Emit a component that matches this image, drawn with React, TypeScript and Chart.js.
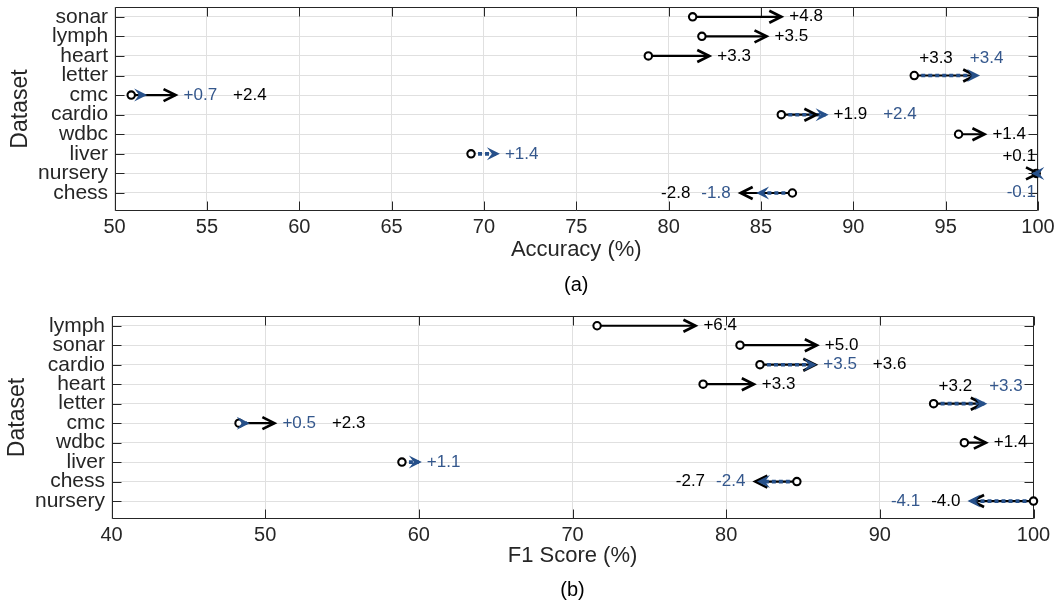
import { useEffect, useRef } from 'react';
import { Chart, registerables } from 'chart.js';

Chart.register(...registerables);

const FONT = '"Liberation Sans", Arial, Helvetica, sans-serif';
const INK = '#262626';
const GRID = '#e0e0e0';
const BLUE = '#26508a';
const BLUE_TEXT = '#34578c';

// ---------- (a) Accuracy ----------
const accDatasets = ['sonar', 'lymph', 'heart', 'letter', 'cmc', 'cardio', 'wdbc', 'liver', 'nursery', 'chess'];
const accBaseline = [81.3, 81.8, 78.9, 93.3, 50.9, 86.1, 95.7, 69.3, 99.9, 86.7];
const accGainBlack = [4.8, 3.5, 3.3, 3.3, 2.4, 1.9, 1.4, null, 0.1, -2.8];
const accGainBlue = [null, null, null, 3.4, 0.7, 2.4, null, 1.4, -0.1, -1.8];
const accTicks = [50, 55, 60, 65, 70, 75, 80, 85, 90, 95, 100];

// ---------- (b) F1 score ----------
const f1Datasets = ['lymph', 'sonar', 'cardio', 'heart', 'letter', 'cmc', 'wdbc', 'liver', 'chess', 'nursery'];
const f1Baseline = [71.6, 80.9, 82.2, 78.5, 93.5, 48.3, 95.5, 58.9, 84.6, 100.0];
const f1GainBlack = [6.4, 5.0, 3.6, 3.3, 3.2, 2.3, 1.4, null, -2.7, -4.0];
const f1GainBlue = [null, null, 3.5, null, 3.3, 0.5, null, 1.1, -2.4, -4.1];
const f1Ticks = [40, 50, 60, 70, 80, 90, 100];

type Gain = number | null;
type Mode = 'above' | 'split';
interface PanelSpec {
  names: string[];
  base: number[];
  black: Gain[];
  blue: Gain[];
  xTicks: number[];
  xTitle: string;
  caption: string;
  labelMode: Record<string, Mode>;
  box: { left: number; right: number; top: number; bottom: number };
  titleY: number;
  captionY: number;
}

const W = 1057;
const H = 303;

const panelA: PanelSpec = {
  names: accDatasets,
  base: accBaseline,
  black: accGainBlack,
  blue: accGainBlue,
  xTicks: accTicks,
  xTitle: 'Accuracy (%)',
  caption: '(a)',
  labelMode: { letter: 'above', nursery: 'split' },
  box: { left: 114.6, right: 1038, top: 7, bottom: 211 },
  titleY: 250,
  captionY: 285,
};

const panelB: PanelSpec = {
  names: f1Datasets,
  base: f1Baseline,
  black: f1GainBlack,
  blue: f1GainBlue,
  xTicks: f1Ticks,
  xTitle: 'F1 Score (%)',
  caption: '(b)',
  labelMode: { letter: 'above' },
  box: { left: 111.5, right: 1033.5, top: 13, bottom: 216 },
  titleY: 253,
  captionY: 287,
};

const fmt = (v: number) => (v > 0 ? '+' : '') + v.toFixed(1);

function chevron(ctx: CanvasRenderingContext2D, tx: number, ty: number, dir: number) {
  ctx.beginPath();
  ctx.moveTo(tx - dir * 12, ty - 6);
  ctx.lineTo(tx, ty);
  ctx.lineTo(tx - dir * 12, ty + 6);
  ctx.strokeStyle = '#000';
  ctx.lineWidth = 2.7;
  ctx.lineJoin = 'miter';
  ctx.lineCap = 'butt';
  ctx.setLineDash([]);
  ctx.stroke();
}

function notched(ctx: CanvasRenderingContext2D, tx: number, ty: number, dir: number) {
  const t = tx + dir * 3;
  ctx.beginPath();
  ctx.moveTo(t, ty);
  ctx.lineTo(t - dir * 13, ty - 6.5);
  ctx.lineTo(t - dir * 8, ty);
  ctx.lineTo(t - dir * 13, ty + 6.5);
  ctx.closePath();
  ctx.fillStyle = BLUE;
  ctx.fill();
}

function buildConfig(p: PanelSpec): any {
  const rowY = (i: number) => i + 1;
  const circles = p.names.map((_, i) => ({ x: p.base[i], y: rowY(i) }));
  const seg = (gains: Gain[]) => {
    const pts: any[] = [];
    gains.forEach((g, i) => {
      if (g == null) return;
      pts.push({ x: p.base[i], y: rowY(i) }, { x: p.base[i] + g, y: rowY(i) }, { x: null, y: null });
    });
    return pts;
  };

  const framePlugin = {
    id: 'frame',
    beforeDatasetsDraw(chart: any) {
      const { ctx, chartArea, scales } = chart;
      const { left, right, top, bottom } = chartArea;
      const x = scales.x;
      const y = scales.y;
      ctx.save();
      ctx.strokeStyle = INK;
      ctx.lineWidth = 1;
      ctx.setLineDash([]);
      const L = Math.round(left) + 0.5;
      const R = Math.round(right) - 0.5;
      const T = Math.round(top) + 0.5;
      const B = Math.round(bottom) - 0.5;
      ctx.beginPath();
      ctx.rect(L, T, R - L, B - T);
      x.ticks.forEach((t: any) => {
        const px = Math.round(x.getPixelForValue(t.value)) + 0.5;
        ctx.moveTo(px, B);
        ctx.lineTo(px, B - 9);
        ctx.moveTo(px, T);
        ctx.lineTo(px, T + 9);
      });
      y.ticks.forEach((t: any) => {
        const py = Math.round(y.getPixelForValue(t.value)) + 0.5;
        ctx.moveTo(L, py);
        ctx.lineTo(L + 9, py);
        ctx.moveTo(R, py);
        ctx.lineTo(R - 9, py);
      });
      ctx.stroke();
      ctx.restore();
    },
  };

  const arrowPlugin = {
    id: 'arrowsAndLabels',
    afterDatasetsDraw(chart: any) {
      const { ctx, scales } = chart;
      const x = scales.x;
      const y = scales.y;
      ctx.save();
      p.names.forEach((name, i) => {
        const py = y.getPixelForValue(rowY(i));
        const b = p.base[i];
        const k = p.black[i];
        const u = p.blue[i];
        if (k != null) chevron(ctx, x.getPixelForValue(b + k), py, k >= 0 ? 1 : -1);
        if (u != null) notched(ctx, x.getPixelForValue(b + u), py, u >= 0 ? 1 : -1);
      });

      ctx.font = `17px ${FONT}`;
      ctx.textBaseline = 'middle';
      p.names.forEach((name, i) => {
        const py = y.getPixelForValue(rowY(i));
        const b = p.base[i];
        const items: { v: number; color: string }[] = [];
        if (p.black[i] != null) items.push({ v: p.black[i] as number, color: '#000' });
        if (p.blue[i] != null) items.push({ v: p.blue[i] as number, color: BLUE_TEXT });
        if (!items.length) return;
        items.sort((a, c) => a.v - c.v);
        const tips = items.map((it) => x.getPixelForValue(b + it.v));
        const mode = p.labelMode[name];
        if (mode === 'above') {
          let cx = x.getPixelForValue(b) + 5;
          ctx.textAlign = 'left';
          items.forEach((it) => {
            const s = fmt(it.v);
            ctx.fillStyle = it.color;
            ctx.fillText(s, cx, py - 17);
            cx += ctx.measureText(s).width + 17;
          });
        } else if (mode === 'split') {
          const rx = Math.max(...tips) - 2;
          ctx.textAlign = 'right';
          items.forEach((it) => {
            ctx.fillStyle = it.color;
            ctx.fillText(fmt(it.v), rx, it.v >= 0 ? py - 17 : py + 19);
          });
        } else if (items[0].v >= 0) {
          let cx = Math.max(...tips) + 8;
          ctx.textAlign = 'left';
          items.forEach((it) => {
            const s = fmt(it.v);
            ctx.fillStyle = it.color;
            ctx.fillText(s, cx, py);
            cx += ctx.measureText(s).width + 16;
          });
        } else {
          let cx = Math.min(...tips) - 10;
          ctx.textAlign = 'right';
          [...items].reverse().forEach((it) => {
            const s = fmt(it.v);
            ctx.fillStyle = it.color;
            ctx.fillText(s, cx, py);
            cx -= ctx.measureText(s).width + 11;
          });
        }
      });
      ctx.restore();
    },
    afterDraw(chart: any) {
      const { ctx, chartArea } = chart;
      const { left, right, top, bottom } = chartArea;
      const cx = (left + right) / 2;
      ctx.save();
      ctx.fillStyle = INK;
      ctx.textAlign = 'center';
      ctx.textBaseline = 'middle';
      ctx.font = `22px ${FONT}`;
      ctx.fillText(p.xTitle, cx, p.titleY);
      ctx.fillStyle = '#000';
      ctx.font = `20px ${FONT}`;
      ctx.fillText(p.caption, cx, p.captionY);
      ctx.translate(left - 87.5, (top + bottom) / 2);
      ctx.rotate(-Math.PI / 2);
      ctx.fillStyle = INK;
      ctx.textBaseline = 'alphabetic';
      ctx.font = `23px ${FONT}`;
      ctx.fillText('Dataset', 0, 0);
      ctx.restore();
    },
  };

  const zeroPad = (s: any) => {
    s.paddingLeft = 0;
    s.paddingRight = 0;
    s.paddingTop = 0;
    s.paddingBottom = 0;
  };

  return {
    type: 'scatter',
    data: {
      datasets: [
        {
          label: 'baseline',
          data: circles,
          showLine: false,
          pointStyle: 'circle',
          pointRadius: 3.7,
          borderWidth: 2.1,
          borderColor: '#000',
          backgroundColor: '#fff',
          clip: false,
          order: 0,
        },
        {
          label: 'blue',
          data: seg(p.blue),
          showLine: true,
          pointRadius: 0,
          borderColor: BLUE,
          borderWidth: 3.6,
          borderDash: [4, 3],
          borderCapStyle: 'butt',
          clip: false,
          order: 1,
        },
        {
          label: 'black',
          data: seg(p.black),
          showLine: true,
          pointRadius: 0,
          borderColor: '#000',
          borderWidth: 2.2,
          clip: false,
          order: 2,
        },
      ],
    },
    options: {
      animation: false,
      responsive: false,
      maintainAspectRatio: false,
      devicePixelRatio: 1,
      events: [],
      layout: { padding: { left: 0, right: W - p.box.right, top: p.box.top, bottom: 0 } },
      plugins: { legend: { display: false }, tooltip: { enabled: false }, title: { display: false } },
      scales: {
        x: {
          type: 'linear',
          min: p.xTicks[0],
          max: p.xTicks[p.xTicks.length - 1],
          afterBuildTicks: (s: any) => {
            s.ticks = p.xTicks.map((v) => ({ value: v }));
          },
          ticks: {
            autoSkip: false,
            maxRotation: 0,
            padding: 4,
            color: INK,
            font: { family: FONT, size: 20 },
            callback: (v: any) => String(v),
          },
          grid: { color: GRID, lineWidth: 1, drawTicks: false },
          border: { display: false },
          afterFit: (s: any) => {
            s.height = H - p.box.bottom;
            zeroPad(s);
          },
        },
        y: {
          type: 'linear',
          min: 0.5,
          max: 10.92,
          reverse: true,
          afterBuildTicks: (s: any) => {
            s.ticks = p.names.map((_, i) => ({ value: rowY(i) }));
          },
          ticks: {
            autoSkip: false,
            padding: 6.5,
            color: INK,
            font: { family: FONT, size: 21 },
            callback: (v: any) => p.names[Math.round(v) - 1] ?? '',
          },
          grid: { color: GRID, lineWidth: 1, drawTicks: false },
          border: { display: false },
          afterFit: (s: any) => {
            s.width = p.box.left;
            zeroPad(s);
          },
        },
      },
    },
    plugins: [framePlugin, arrowPlugin],
  };
}

function PanelChart({ panel, top }: { panel: PanelSpec; top: number }) {
  const ref = useRef<HTMLCanvasElement>(null);
  useEffect(() => {
    const chart = new Chart(ref.current as HTMLCanvasElement, buildConfig(panel));
    return () => chart.destroy();
  }, [panel]);
  return (
    <canvas
      ref={ref}
      width={W}
      height={H}
      style={{ position: 'absolute', left: 0, top, width: W, height: H }}
    />
  );
}

export default function App() {
  return (
    <div style={{ position: 'absolute', left: 0, top: 0, width: W, height: 606, background: '#fff' }}>
      <PanelChart panel={panelA} top={0} />
      <PanelChart panel={panelB} top={303} />
    </div>
  );
}
